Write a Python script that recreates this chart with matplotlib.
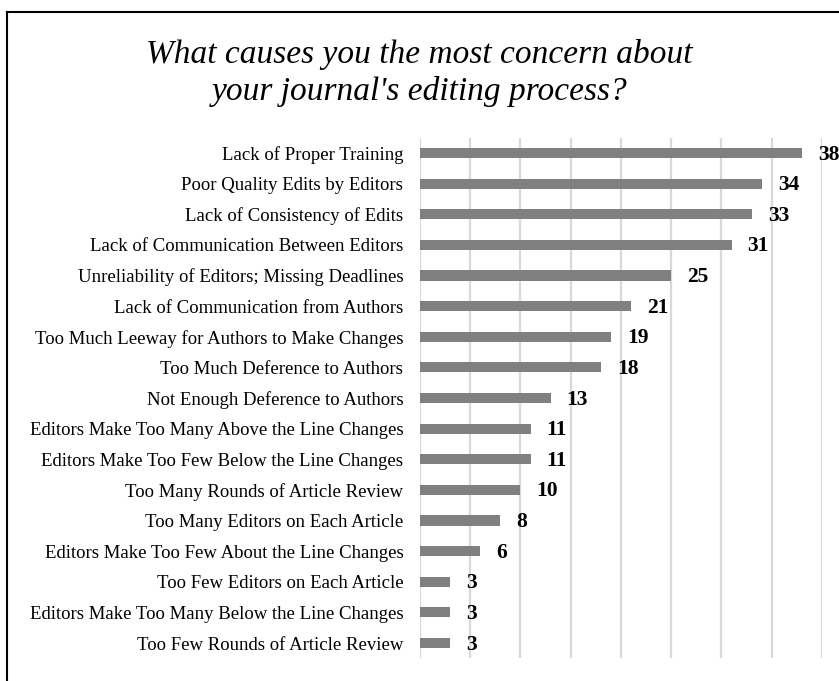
import matplotlib.pyplot as plt
from matplotlib.lines import Line2D

categorias = [
    'Lack of Proper Training',
    'Poor Quality Edits by Editors',
    'Lack of Consistency of Edits',
    'Lack of Communication Between Editors',
    'Unreliability of Editors; Missing Deadlines',
    'Lack of Communication from Authors',
    'Too Much Leeway for Authors to Make Changes',
    'Too Much Deference to Authors',
    'Not Enough Deference to Authors',
    'Editors Make Too Many Above the Line Changes',
    'Editors Make Too Few Below the Line Changes',
    'Too Many Rounds of Article Review',
    'Too Many Editors on Each Article',
    'Editors Make Too Few About the Line Changes',
    'Too Few Editors on Each Article',
    'Editors Make Too Many Below the Line Changes',
    'Too Few Rounds of Article Review',
]
valores = [38, 34, 33, 31, 25, 21, 19, 18, 13, 11, 11, 10, 8, 6, 3, 3, 3]

plt.rcParams['font.family'] = ['Liberation Serif', 'DejaVu Serif']

fig = plt.figure(figsize=(8.39, 6.81), dpi=100)
ax = fig.add_axes([0.5006, 0.0333, 0.4791, 0.7645])

pos = list(range(len(categorias)))[::-1]
ax.barh(pos, valores, height=0.33, color='#808080', zorder=3)
for p, v in zip(pos, valores):
    ax.text(v + 1.6, p - 0.05, str(v), va='center', ha='left',
            fontsize=15.5, fontweight='bold', color='black')

ax.set_xlim(0, 40)
ax.set_ylim(-0.5, len(categorias) - 0.5)
ax.set_xticks(range(0, 41, 5))
ax.set_xticklabels([])
ax.set_yticks(pos)
ax.set_yticklabels(categorias, fontsize=13.5)
ax.tick_params(length=0, pad=12)
ax.grid(axis='x', color='#d9d9d9', linewidth=1.6, zorder=0)
for s in ax.spines.values():
    s.set_visible(False)

fig.text(0.5, 0.893, "What causes you the most concern about\nyour journal's editing process?",
         ha='center', va='center', fontsize=24, style='italic', linespacing=1.22)

# marco del grafico
fig.add_artist(Line2D([7 / 839, 1], [1 - 12 / 681, 1 - 12 / 681],
                      transform=fig.transFigure, color='black', linewidth=1.5))
fig.add_artist(Line2D([7 / 839, 7 / 839], [0, 1 - 12 / 681],
                      transform=fig.transFigure, color='black', linewidth=1.5))

fig.savefig('out.png', dpi=100)
